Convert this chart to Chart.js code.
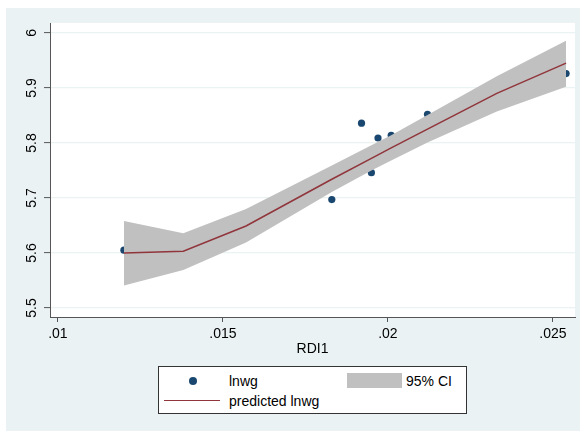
<!DOCTYPE html>
<html>
<head>
<meta charset="utf-8">
<script src="https://cdn.jsdelivr.net/npm/chart.js@4.4.1/dist/chart.umd.min.js"></script>
<style>
    html, body { margin: 0; padding: 0; background: #fff; }
    #bg { position: absolute; left: 6px; top: 8px; width: 574px; height: 423px; background: #eaf2f3; }
    #chart { position: absolute; left: 0; top: 0; }
    #legend { position: absolute; left: 158px; top: 366px; width: 309px; height: 48px; box-sizing: border-box;
              background: #fff; border: 1px solid #333; font: 14px "Liberation Sans", Arial, sans-serif; color: #000; }
    #legend .it { position: absolute; line-height: 16px; }
    #legend .dot { position: absolute; left: 30px; top: 10px; width: 8px; height: 8px; border-radius: 50%; background: #1a476f; }
    #legend .band { position: absolute; left: 188px; top: 6px; width: 55px; height: 15px; background: #c0c0c0; }
    #legend .ln { position: absolute; left: 5px; top: 33px; width: 56px; height: 0; border-top: 1.5px solid #90353b; }
</style>
</head>
<body>
<div id="bg"></div>
<canvas id="chart" width="580" height="431"></canvas>
<div id="legend">
    <div class="dot"></div>
    <div class="it" style="left:70px; top:6px;">lnwg</div>
    <div class="band"></div>
    <div class="it" style="left:247px; top:6px;">95% CI</div>
    <div class="ln"></div>
    <div class="it" style="left:70px; top:26px;">predicted lnwg</div>
</div>
<script>
document.addEventListener("DOMContentLoaded", () => {
    // observed points (RDI1, lnwg)
    const xObs = [0.0120, 0.0183, 0.0192, 0.0195, 0.0197, 0.0201, 0.0212, 0.0254];
    const yObs = [5.605, 5.697, 5.836, 5.746, 5.809, 5.814, 5.852, 5.926];

    // fitted line and 95% CI
    const xFit = [0.0120, 0.0138, 0.0157, 0.0183, 0.0195, 0.0201, 0.0212, 0.0233, 0.0254];
    const yFit = [5.600, 5.603, 5.649, 5.734, 5.772, 5.791, 5.825, 5.890, 5.945];
    const ciLo = [5.541, 5.569, 5.619, 5.711, 5.750, 5.768, 5.801, 5.857, 5.902];
    const ciHi = [5.658, 5.636, 5.680, 5.759, 5.796, 5.814, 5.851, 5.921, 5.986];

    const xTicks = [0.01, 0.015, 0.02, 0.025];
    const yTicks = [5.5, 5.6, 5.7, 5.8, 5.9, 6];
    const xTitle = "RDI1";

    const FONT = '"Liberation Sans", Arial, sans-serif';
    const pts = (xs, ys) => xs.map((x, i) => ({ x: x, y: ys[i] }));

    // white plot region, rotated y labels, x title
    const stataText = {
        id: "stataText",
        beforeDraw(chart) {
            const a = chart.chartArea, ctx = chart.ctx;
            ctx.save();
            ctx.fillStyle = "#fff";
            ctx.fillRect(a.left, a.top, a.right - a.left, a.bottom - a.top);
            ctx.restore();
        },
        afterDraw(chart) {
            const ctx = chart.ctx, ys = chart.scales.y, xs = chart.scales.x;
            ctx.save();
            ctx.font = "14px " + FONT;
            ctx.fillStyle = "#000";
            ctx.textAlign = "center";
            ctx.textBaseline = "middle";
            yTicks.forEach(v => {
                ctx.save();
                ctx.translate(32.5, ys.getPixelForValue(v));
                ctx.rotate(-Math.PI / 2);
                ctx.fillText(String(v), 0, 0);
                ctx.restore();
            });
            ctx.fillText(xTitle, (xs.left + xs.right) / 2, 349);
            ctx.restore();
        }
    };

    new Chart(document.getElementById("chart"), {
        type: "scatter",
        data: {
            datasets: [
                { type: "line", label: "predicted lnwg", data: pts(xFit, yFit), borderColor: "#90353b", borderWidth: 1.5, pointRadius: 0, fill: false, tension: 0, order: 0 },
                { type: "line", label: "ci hi", data: pts(xFit, ciHi), borderWidth: 0, borderColor: "rgba(0,0,0,0)", pointRadius: 0, backgroundColor: "#c0c0c0", fill: "+1", tension: 0, order: 1 },
                { type: "line", label: "ci lo", data: pts(xFit, ciLo), borderWidth: 0, borderColor: "rgba(0,0,0,0)", pointRadius: 0, fill: false, tension: 0, order: 2 },
                { label: "lnwg", data: pts(xObs, yObs), backgroundColor: "#1a476f", borderColor: "#1a476f", pointRadius: 3.6, borderWidth: 0, order: 3 }
            ]
        },
        options: {
            responsive: false,
            animation: false,
            events: [],
            layout: { padding: { top: 23, right: 5, left: 0, bottom: 0 } },
            plugins: { legend: { display: false }, tooltip: { enabled: false } },
            scales: {
                x: {
                    type: "linear", min: 0.00976, max: 0.02567,
                    afterBuildTicks: s => { s.ticks = xTicks.map(v => ({ value: v })); },
                    afterFit: s => { s.height = 114; },
                    grid: { drawOnChartArea: false, tickLength: 5, tickColor: "#555", tickWidth: 1 },
                    border: { color: "#555", width: 1 },
                    ticks: { callback: v => String(v).replace(/^0/, ""), font: { family: FONT, size: 14 }, color: "#000", padding: 4, maxRotation: 0, autoSkip: false }
                },
                y: {
                    type: "linear", min: 5.4836, max: 6.018,
                    afterBuildTicks: s => { s.ticks = yTicks.map(v => ({ value: v })); },
                    afterFit: s => { s.width = 50; },
                    grid: { color: "#eaf2f3", lineWidth: 1.2, tickLength: 6, tickColor: "#555", tickWidth: 1 },
                    border: { color: "#555", width: 1 },
                    ticks: { display: false }
                }
            }
        },
        plugins: [stataText]
    });
});
</script>
</body>
</html>
